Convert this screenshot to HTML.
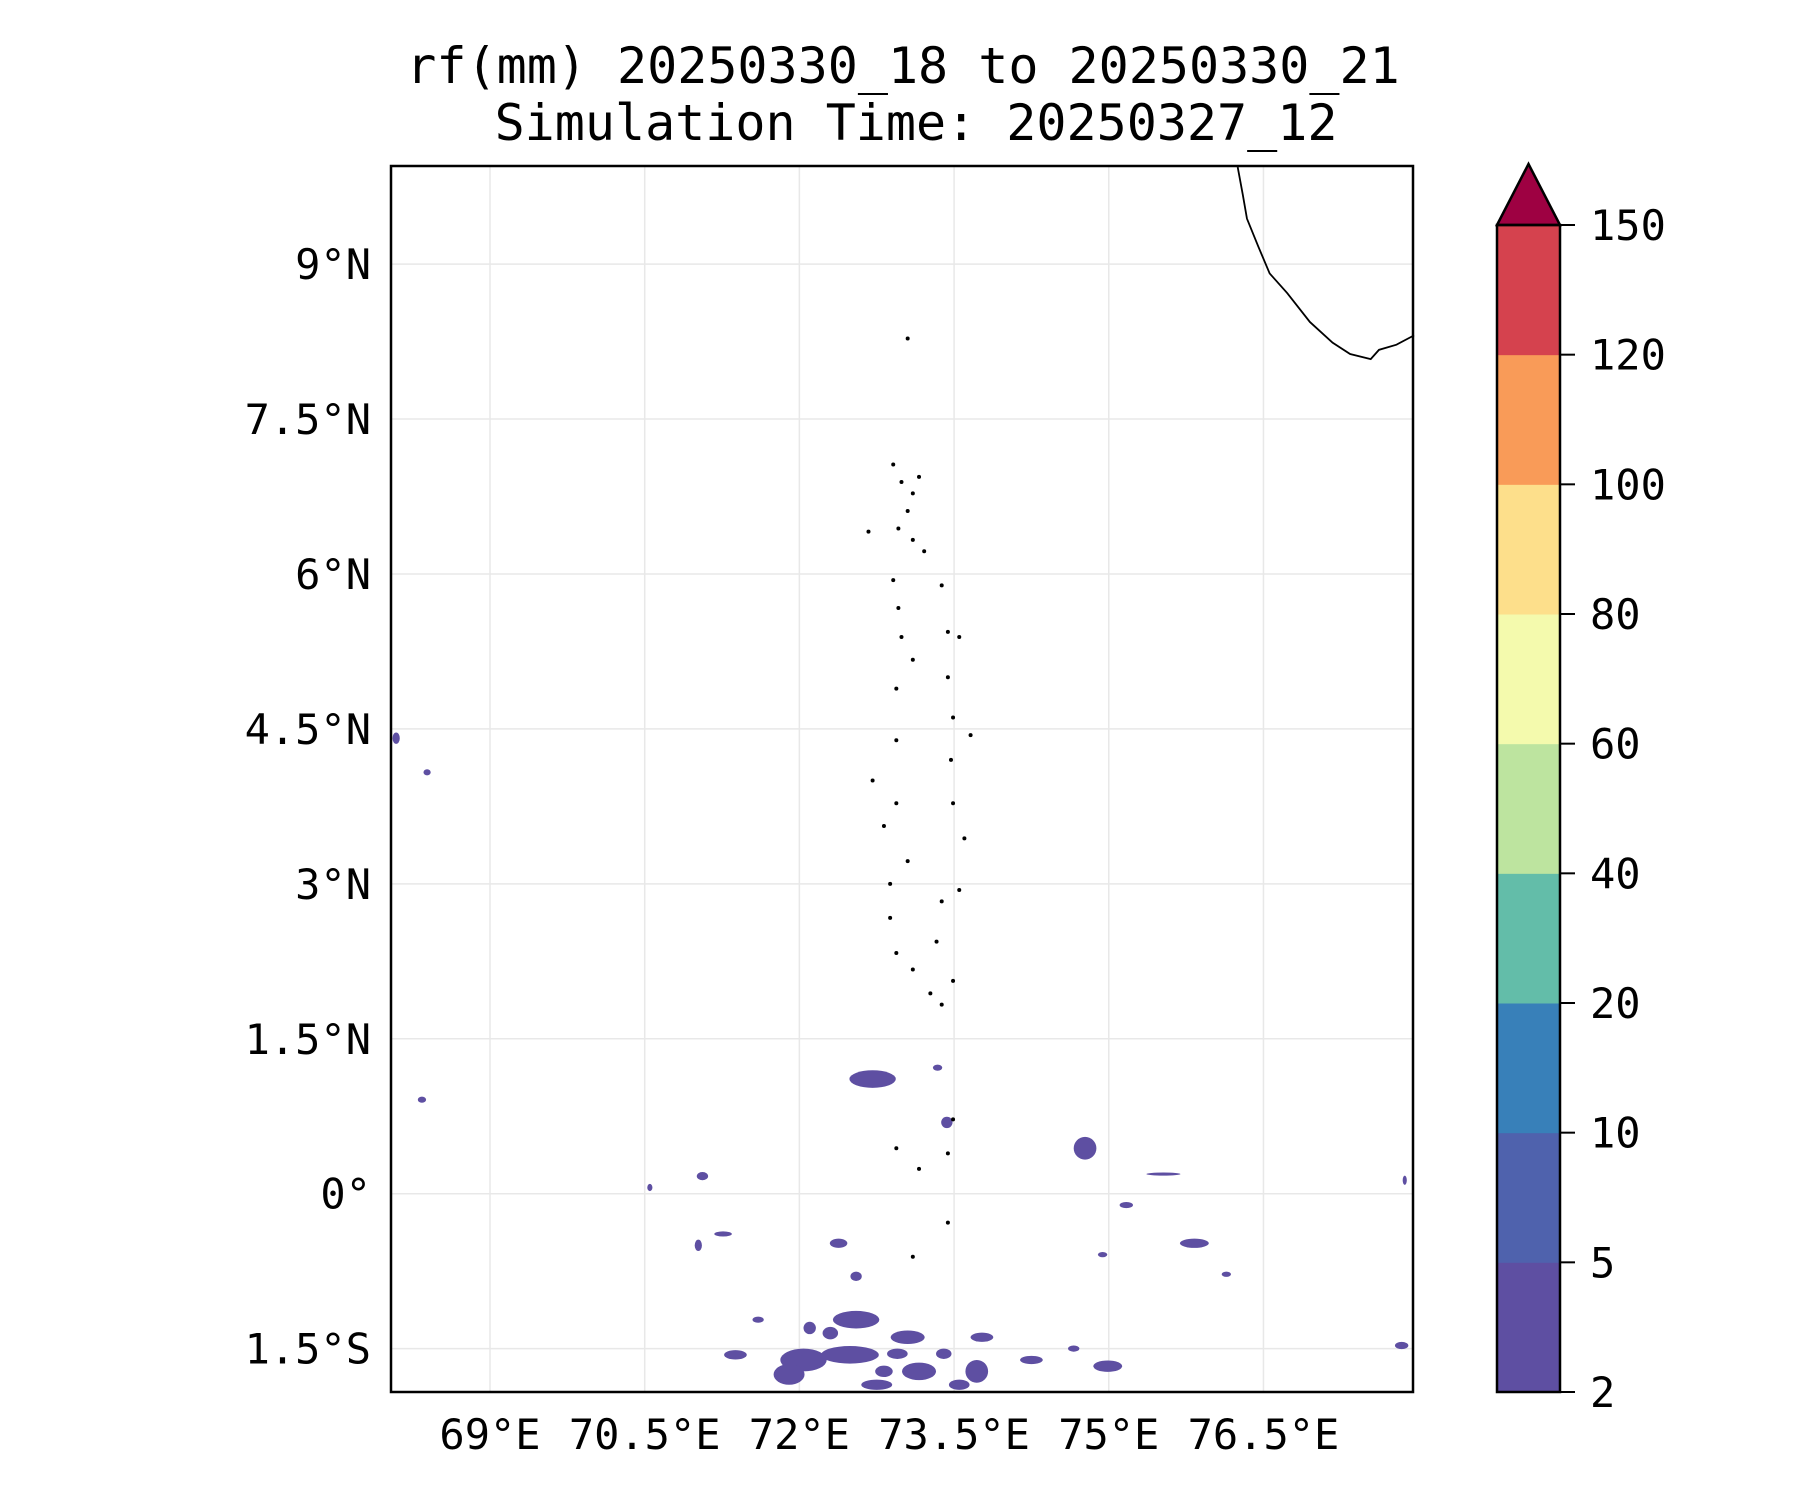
<!DOCTYPE html>
<html><head><meta charset="utf-8"><style>
body{margin:0;background:#fff}
text{font-family:"DejaVu Sans Mono","Liberation Mono",monospace;fill:#000}
</style></head><body>
<svg id="fig" width="1800" height="1500" viewBox="0 0 1800 1500" xmlns="http://www.w3.org/2000/svg">
<text x="903" y="83" font-size="50" text-anchor="middle">rf(mm) 20250330_18 to 20250330_21</text>
<text x="916" y="140" font-size="50" text-anchor="middle">Simulation Time: 20250327_12</text>
<g id="grid"></g>
<g id="rain"></g>
<g id="coast"></g>
<rect x="391" y="166" width="1022" height="1226" fill="none" stroke="#000" stroke-width="2.5"/>
<g id="axes"></g>
<g id="cbar"></g>
</svg>
<script>
const lonTicks=[69,70.5,72,73.5,75,76.5];
const lonLabels=["69°E","70.5°E","72°E","73.5°E","75°E","76.5°E"];
const latTicks=[9,7.5,6,4.5,3,1.5,0,-1.5];
const latLabels=["9°N","7.5°N","6°N","4.5°N","3°N","1.5°N","0°","1.5°S"];
const cbLevels=[2,5,10,20,40,60,80,100,120,150];
const cbColors=["#5e4fa2","#4f62ad","#3880b9","#63bda9","#bde49f","#f4faad","#fddf8b","#f99b58","#d5424e"];
const cbExtendColor="#9e0142";
// rain blobs: lon, lat, width(deg), height(deg)
const blobLon=[72.04,72.49,72.55,73.05,73.16,73.72,73.77,74.99,72.71,73.43,74.77,75.83,75.17,75.53,71.06,71.26,71.02,72.38,72.55,71.6,71.38,74.25,74.66,68.34,68.39,68.09,77.84,77.87,70.55,76.14,74.94,73.34,72.82,71.9,72.3,72.95,73.4,73.55,72.75,72.1];
const blobLat=[-1.61,-1.56,-1.22,-1.39,-1.72,-1.72,-1.39,-1.67,1.11,0.69,0.44,-0.48,-0.11,0.19,0.17,-0.39,-0.5,-0.48,-0.8,-1.22,-1.56,-1.61,-1.5,0.91,4.08,4.41,-1.47,0.13,0.06,-0.78,-0.59,1.22,-1.72,-1.75,-1.35,-1.55,-1.55,-1.85,-1.85,-1.3];
const blobW=[0.45,0.56,0.45,0.33,0.33,0.22,0.22,0.28,0.45,0.11,0.22,0.28,0.13,0.33,0.11,0.17,0.07,0.17,0.11,0.11,0.22,0.22,0.11,0.08,0.07,0.07,0.13,0.04,0.05,0.09,0.09,0.09,0.17,0.3,0.15,0.2,0.15,0.2,0.3,0.12];
const blobH=[0.22,0.17,0.17,0.13,0.17,0.22,0.09,0.11,0.17,0.11,0.22,0.09,0.06,0.03,0.08,0.05,0.11,0.09,0.09,0.06,0.09,0.08,0.06,0.06,0.06,0.11,0.07,0.09,0.07,0.05,0.05,0.06,0.11,0.2,0.12,0.1,0.1,0.1,0.1,0.12];
const coastLon=[76.25,76.30,76.34,76.45,76.56,76.73,76.95,77.17,77.34,77.54,77.62,77.79,77.96];
const coastLat=[9.94,9.67,9.44,9.17,8.91,8.72,8.44,8.24,8.13,8.08,8.17,8.22,8.31];
const islLon=[72.91,72.99,73.10,73.16,73.05,72.96,73.10,73.21,72.91,72.96,72.99,73.10,73.38,73.44,73.55,72.94,73.44,72.94,73.49,73.66,73.47,72.71,72.94,72.82,73.49,73.60,73.05,72.88,73.55,73.38,72.88,73.33,72.94,73.10,73.49,73.38,73.27,72.94,73.16,73.44,73.49,73.10,73.05,72.67,73.44];
const islLat=[7.06,6.89,6.78,6.94,6.61,6.44,6.33,6.22,5.94,5.67,5.39,5.17,5.89,5.44,5.39,4.89,5.0,4.39,4.61,4.44,4.2,4.0,3.78,3.56,3.78,3.44,3.22,3.0,2.94,2.83,2.67,2.44,2.33,2.17,2.06,1.83,1.94,0.44,0.24,0.39,0.72,-0.61,8.28,6.41,-0.28];
const NS="http://www.w3.org/2000/svg";
const L0=68.04,L1=77.95,B0=-1.92,B1=9.95,X0=391,X1=1413,Y0=166,Y1=1392;
const xs=v=>X0+(v-L0)/(L1-L0)*(X1-X0);
const ys=v=>Y1-(v-B0)/(B1-B0)*(Y1-Y0);
function mk(tag,parent,attrs){const e=document.createElementNS(NS,tag);for(const k in attrs)e.setAttribute(k,attrs[k]);document.getElementById(parent).appendChild(e);return e;}
lonTicks.forEach((v,i)=>{
 const l=mk('line','grid',{x1:xs(v),x2:xs(v),y1:Y0,y2:Y1,stroke:'#e8e8e8','stroke-width':1.5});
 
 
 const t=mk('text','axes',{x:xs(v),y:1449,'font-size':42,'text-anchor':'middle'});t.textContent=lonLabels[i];
 
 
});
latTicks.forEach((v,i)=>{
 const l=mk('line','grid',{x1:X0,x2:X1,y1:ys(v),y2:ys(v),stroke:'#e8e8e8','stroke-width':1.5});
 
 
 const t=mk('text','axes',{x:371,y:ys(v)+15,'font-size':42,'text-anchor':'end'});t.textContent=latLabels[i];
 
 
});
const degPx=(X1-X0)/(L1-L0), degPy=(Y1-Y0)/(B1-B0);
blobLon.forEach((v,i)=>{
 const e=mk('ellipse','rain',{cx:xs(v),cy:ys(blobLat[i]),rx:blobW[i]*degPx/2,ry:blobH[i]*degPy/2,fill:'#5e4fa2'});
 
 
});
const cp=mk('polyline','coast',{points:coastLon.map((v,i)=>xs(v)+','+ys(coastLat[i])).join(' '),fill:'none',stroke:'#000','stroke-width':1.8});


islLon.forEach((v,i)=>{
 const c=mk('circle','coast',{cx:xs(v),cy:ys(islLat[i]),r:2,fill:'#000'});
 
 
});
// colorbar
const CX=1497,CW=63,CB=1392,CT=225,step=(CB-CT)/(cbLevels.length-1);
cbColors.forEach((c,i)=>{
 const r=mk('rect','cbar',{x:CX,y:CB-(i+1)*step,width:CW,height:step+0.5,fill:c});
 
 
});
const tri=mk('polygon','cbar',{points:`${CX},${CT} ${CX+CW/2},164 ${CX+CW},${CT}`,fill:cbExtendColor,stroke:'#000','stroke-width':2.5});


const ob=mk('rect','cbar',{x:CX,y:CT,width:CW,height:CB-CT,fill:'none',stroke:'#000','stroke-width':2.5});


cbLevels.forEach((v,i)=>{
 const y=CB-i*step;
 const tk=mk('line','cbar',{x1:CX+CW,x2:CX+CW+15,y1:y,y2:y,stroke:'#000','stroke-width':2});
 
 
 const t=mk('text','cbar',{x:1590,y:y+15,'font-size':42});t.textContent=v;
 
 
});
</script>
</body></html>
